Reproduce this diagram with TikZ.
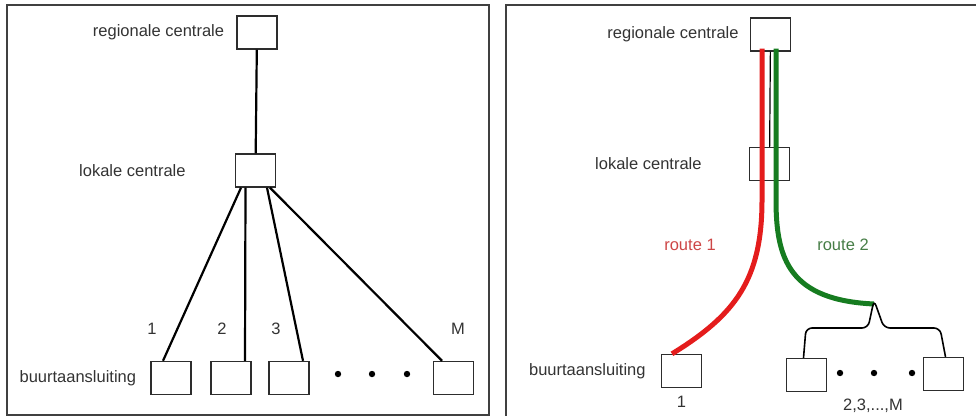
\documentclass[tikz,border=0pt]{standalone}
\usepackage{fontspec}
\setmainfont{Liberation Sans}
\usetikzlibrary{positioning}
\definecolor{routerood}{RGB}{228,28,28}
\definecolor{routegroen}{RGB}{22,124,32}
\definecolor{tekstrood}{RGB}{205,70,70}
\definecolor{tekstgroen}{RGB}{70,125,70}
\definecolor{lijngrijs}{RGB}{45,45,45}

\begin{document}
\begin{tikzpicture}[x=1pt,y=-1pt,
    box/.style={draw=lijngrijs,line width=1.4pt,minimum width=40pt,minimum height=33pt,inner sep=0pt},
    label/.style={inner sep=0pt,text=black!80,font=\fontsize{16.5}{18}\selectfont},
    lijn/.style={draw=black,line width=2.2pt},
    route/.style={line width=5pt},
    kader/.style={draw=black!75,line width=1.4pt}]
  \useasboundingbox (0,0) rectangle (976,416);
  \draw[kader] (7,5) rectangle (489,415);
  \draw[kader] (976,5) -- (506,5) -- (506,416);

  % left: star network
  \node[box] (rc1) at (257,32.5) {};
  \node[box] (lc1) at (255.5,170.5) {};
  \node[box] (b11) at (171,378) {};
  \node[box] (b12) at (231,378) {};
  \node[box] (b13) at (289,378) {};
  \node[box] (b1m) at (453.5,378) {};

  \node[label] [left=12pt of rc1] {regionale centrale};
  \node[label] [left=49pt of lc1] {lokale centrale};
  \node[label] [left=14pt of b11] {buurtaansluiting};

  \node[label] (n1) at (152,329) {1};
  \node[label] (n2) at (222,329) {2};
  \node[label] (n3) at (276,329) {3};
  \node[label] (nm) at (458,329) {M};

  \path[lijn] (rc1) edge (lc1)
  ([xshift=-14.5pt]lc1.south) edge ([xshift=-8pt]b11.north)
  ([xshift=-10pt]lc1.south) edge ([xshift=14pt]b12.north)
  ([xshift=11.5pt]lc1.south) edge ([xshift=14pt]b13.north)
  ([xshift=14.5pt]lc1.south) edge ([xshift=-11.5pt]b1m.north);

  \fill (338,374) circle (3.2pt) (372,374) circle (3.2pt) (407,374) circle (3.2pt);

  % right: two routes
  \node[box] (rc2) at (770.5,34.5) {};
  \node[box] (lc2) at (769.5,164) {};
  \node[box] (b21) at (681.5,371) {};
  \node[box] (b22) at (806.5,375) {};
  \node[box] (b2m) at (943.5,374) {};

  \node[label] [left=11pt of rc2] {regionale centrale};
  \node[label] [left=47pt of lc2] {lokale centrale};
  \node[label] [left=15pt of b21] {buurtaansluiting};
  \node[label] [below=8pt of b21] {1};
  \node[label] (groep) at (873,406) {2,3,...,M};

  \path[draw=black,line width=1.2pt] (rc2) edge (lc2);

  \coordinate (top) at (874,304);
  \draw[route,routerood] ([xshift=-8.5pt,yshift=3pt]rc2.south) -- (762,200)
    .. controls (762,280) and (735,315) .. ([xshift=-9.5pt]b21.north);
  \draw[route,routegroen] ([xshift=5.5pt,yshift=3pt]rc2.south) -- (776,200)
    .. controls (776,260) and (790,300) .. (top);

  \node[label,text=tekstrood] (r1) at (690,245) {route 1};
  \node[label,text=tekstgroen] (r2) at (843,245) {route 2};

  \draw[lijn,line width=1.6pt,rounded corners=6pt] ([xshift=-3pt]b22.north) -- (806,328)
    -- (868,328) -- ([yshift=4pt]top) -- (884,328) -- (940,328) -- ([xshift=2pt]b2m.north);

  \fill (840,373) circle (3.2pt) (874,373) circle (3.2pt) (912,373) circle (3.2pt);
\end{tikzpicture}
\end{document}
